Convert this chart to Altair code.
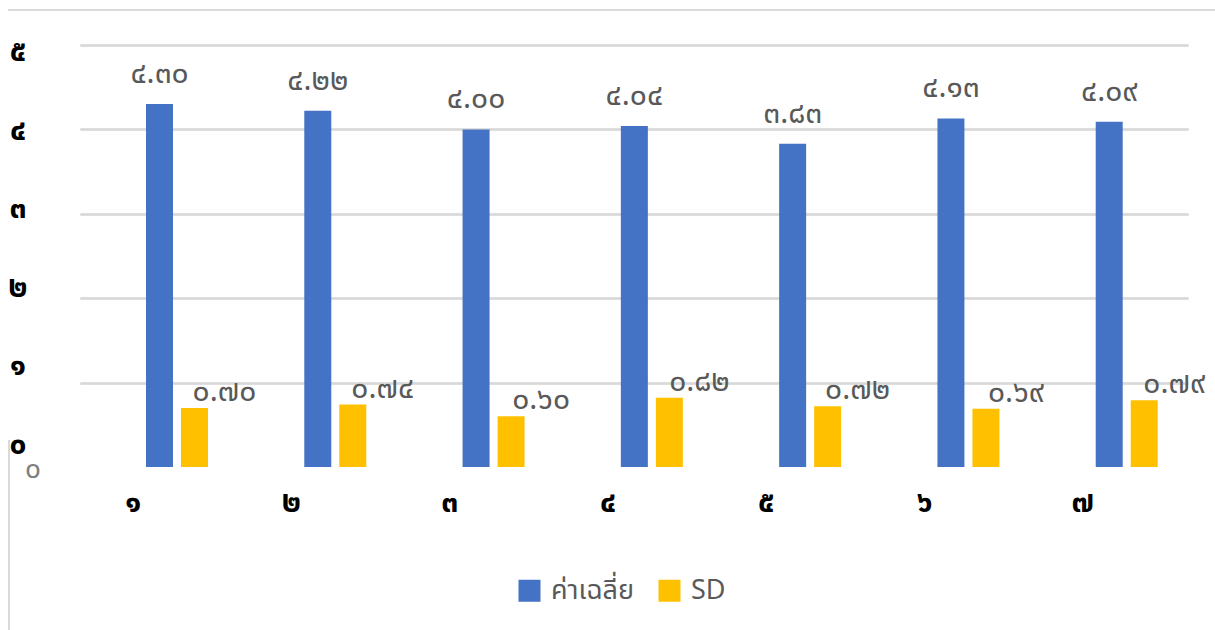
import altair as alt
import pandas as pd

# Item numbers, means and standard deviations
groups = ["๑", "๒", "๓", "๔", "๕", "๖", "๗"]
means = [4.30, 4.22, 4.00, 4.04, 3.83, 4.13, 4.09]
sds = [0.70, 0.74, 0.60, 0.82, 0.72, 0.69, 0.79]
series = ["ค่าเฉลี่ย", "SD"]
colors = ["#4472C4", "#FFC000"]
y_ticks = [0, 1, 2, 3, 4, 5]

THAI = str.maketrans("0123456789", "๐๑๒๓๔๕๖๗๘๙")
FONT = "Tahoma, Leelawadee UI, Noto Sans Thai, sans-serif"


def thai(s):
    return s.translate(THAI)


rows = []
for g, m, s in zip(groups, means, sds):
    rows.append({"group": g, "series": series[0], "value": m, "label": thai(f"{m:.2f}")})
    rows.append({"group": g, "series": series[1], "value": s, "label": thai(f"{s:.2f}")})
df = pd.DataFrame(rows)

ytick_df = pd.DataFrame({"v": y_ticks, "label": [thai(str(v)) for v in y_ticks]})

x_enc = alt.X(
    "group:N",
    sort=groups,
    scale=alt.Scale(paddingInner=0, paddingOuter=0),
    axis=alt.Axis(
        title=None, labelAngle=0, domain=False, ticks=False, grid=False,
        labelOffset=-26, labelPadding=20, labelFontSize=30,
        labelFontWeight="bold", labelColor="black", labelFont=FONT,
    ),
)
xoff_enc = alt.XOffset(
    "series:N", sort=series,
    scale=alt.Scale(range=[66, 128], paddingInner=0.229, paddingOuter=0),
)
y_enc = alt.Y(
    "value:Q",
    scale=alt.Scale(domain=[0, 5]),
    axis=alt.Axis(
        title=None, values=[1, 2, 3, 4, 5], labels=False, domain=False,
        ticks=False, grid=True, gridColor="#D9D9D9", gridWidth=2,
    ),
)

base = alt.Chart(df).encode(x=x_enc, xOffset=xoff_enc, y=y_enc)

bars = base.mark_bar().encode(
    color=alt.Color(
        "series:N", sort=series,
        scale=alt.Scale(domain=series, range=colors),
        legend=alt.Legend(
            title=None, orient="none", legendX=436, legendY=532,
            direction="horizontal", symbolType="square", symbolSize=484,
            symbolStrokeWidth=0, labelFontSize=27, labelColor="#595959",
            labelFont=FONT, columnPadding=22, labelOffset=8,
        ),
    )
)

mean_labels = base.transform_filter(alt.datum.series == series[0]).mark_text(
    dy=-30, baseline="middle", align="center", fontSize=30, color="#595959", font=FONT
).encode(text="label:N")

sd_labels = base.transform_filter(alt.datum.series == series[1]).mark_text(
    dx=30, dy=-16, baseline="middle", align="center", fontSize=30, color="#595959", font=FONT
).encode(text="label:N")

# Value-axis labels, placed on their own scale
ylabels = alt.Chart(ytick_df).mark_text(
    align="center", baseline="middle", fontSize=30, fontWeight="bold", color="black", font=FONT
).encode(
    x=alt.value(-62),
    y=alt.Y("v:Q", scale=alt.Scale(domain=[-0.28, 5.089]), axis=None),
    text="label:N",
)

top_line = alt.Chart(df).mark_rule(color="#D9D9D9", strokeWidth=2).encode(
    x=alt.value(-72), x2=alt.value(1135), y=alt.value(-35)
)
left_line = alt.Chart(df).mark_rule(color="#D9D9D9", strokeWidth=2).encode(
    x=alt.value(-71), y=alt.value(395), y2=alt.value(585)
)
stray_zero = alt.Chart(pd.DataFrame({"t": ["๐"]})).mark_text(
    fontSize=28, color="#7F7F7F", font=FONT, align="center", baseline="middle"
).encode(x=alt.value(-47), y=alt.value(425), text="t:N")

chart = (
    alt.layer(bars, mean_labels, sd_labels, ylabels, top_line, left_line, stray_zero)
    .resolve_scale(y="independent")
    .properties(
        width=1108, height=422,
        padding={"left": 80, "top": 45, "right": 27, "bottom": 163},
        autosize=alt.AutoSizeParams(type="none"),
        background="white",
    )
    .configure_view(stroke=None)
)

chart.save("out.html", embed_options={"renderer": "svg", "actions": False})
